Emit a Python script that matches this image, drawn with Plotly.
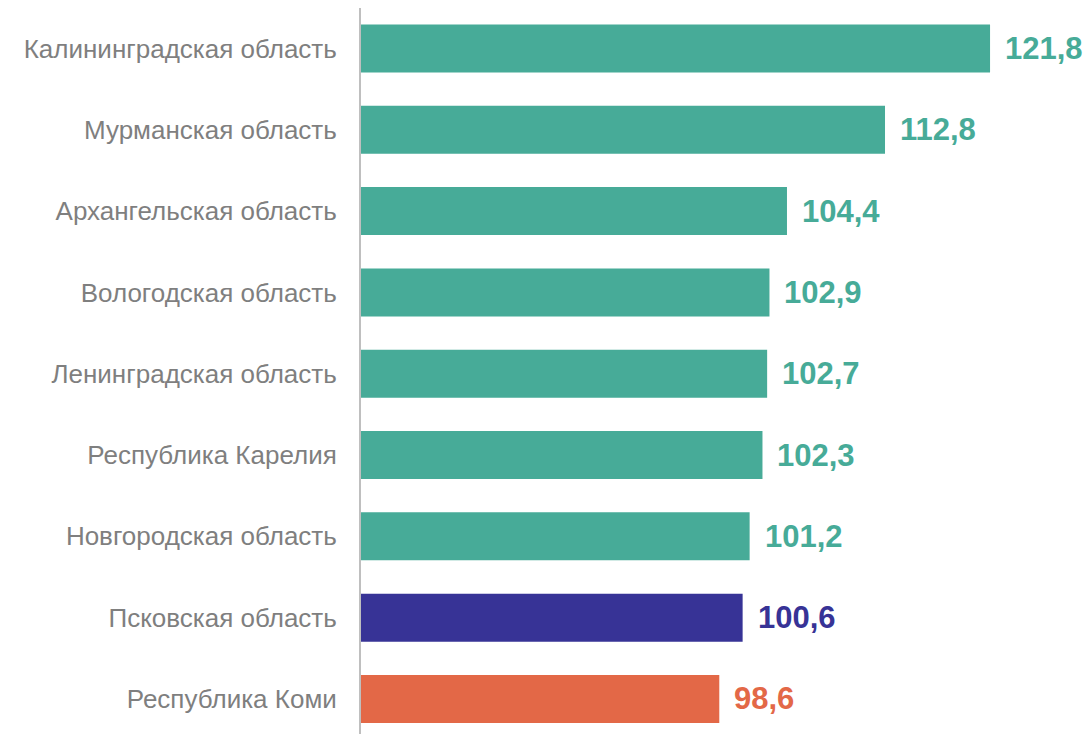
import plotly.graph_objects as go

regions = [
    "Республика Коми",
    "Псковская область",
    "Новгородская область",
    "Республика Карелия",
    "Ленинградская область",
    "Вологодская область",
    "Архангельская область",
    "Мурманская область",
    "Калининградская область",
]
values = [98.6, 100.6, 101.2, 102.3, 102.7, 102.9, 104.4, 112.8, 121.8]

TEAL = "#47AB98"
NAVY = "#373396"
ORANGE = "#E36847"
colors = [ORANGE, NAVY] + [TEAL] * 7

labels = [f"{v:.1f}".replace(".", ",") for v in values]

fig = go.Figure(
    go.Bar(
        y=regions,
        x=values,
        orientation="h",
        marker=dict(color=colors, line=dict(width=0)),
        width=0.59,
        hoverinfo="skip",
    )
)

for r, v, lab, c in zip(regions, values, labels, colors):
    fig.add_annotation(
        x=v, y=r, text=f"<b>{lab}</b>", showarrow=False,
        xanchor="left", yanchor="middle", xshift=14, borderpad=0,
        font=dict(family="Arial, Liberation Sans, sans-serif", size=31, color=c),
    )

fig.update_layout(
    width=1084,
    height=734,
    margin=dict(l=361, r=0, t=8, b=0),
    paper_bgcolor="white",
    plot_bgcolor="white",
    showlegend=False,
    font=dict(family="Arial, Liberation Sans, sans-serif"),
    xaxis=dict(range=[67.9, 129.85], visible=False, showgrid=False, zeroline=False),
    yaxis=dict(
        range=[-0.431, 8.498],
        showline=True, linecolor="#BFBFBF", linewidth=2,
        showgrid=False, zeroline=False,
        ticks="", ticklabelstandoff=17,
        tickfont=dict(size=26, color="#7F7F7F"),
    ),
)

fig.write_html(
    "out.html",
    config={"displayModeBar": False},
    post_script="document.body.style.margin='0';document.body.style.overflow='hidden';",
)
